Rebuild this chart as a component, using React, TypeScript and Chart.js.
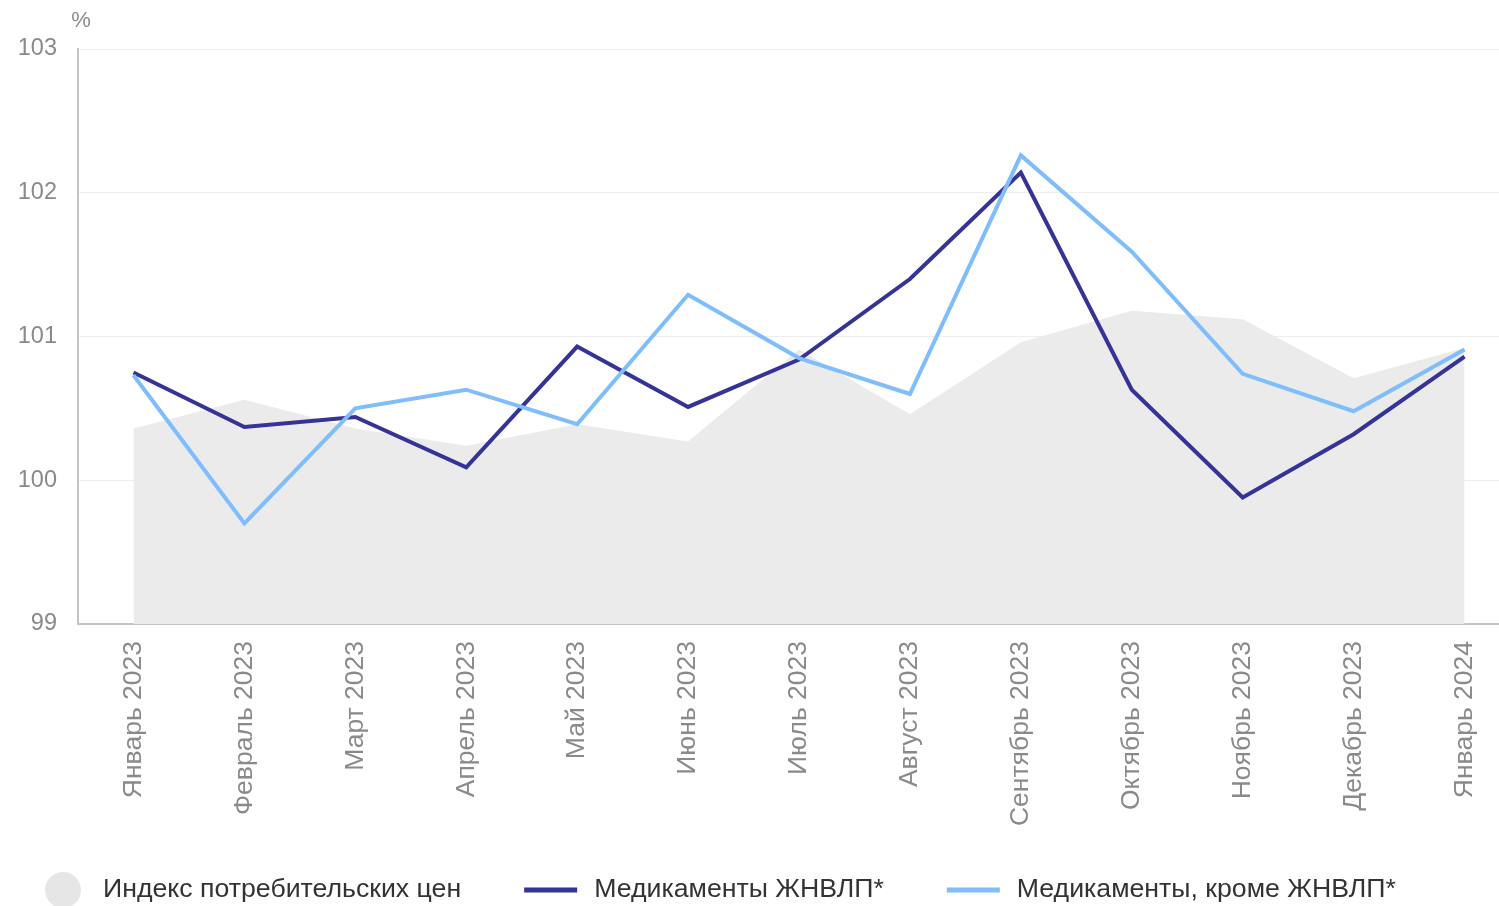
import React, { useEffect, useRef } from "react";
import { Chart, registerables } from "chart.js";

Chart.register(...registerables);

const categories = [
  "Январь 2023",
  "Февраль 2023",
  "Март 2023",
  "Апрель 2023",
  "Май 2023",
  "Июнь 2023",
  "Июль 2023",
  "Август 2023",
  "Сентябрь 2023",
  "Октябрь 2023",
  "Ноябрь 2023",
  "Декабрь 2023",
  "Январь 2024",
];

const cpiValues = [100.36, 100.56, 100.36, 100.24, 100.39, 100.27, 100.91, 100.46, 100.96, 101.18, 101.12, 100.71, 100.92];
const vitalDrugValues = [100.75, 100.37, 100.44, 100.09, 100.93, 100.51, 100.84, 101.4, 102.14, 100.63, 99.88, 100.32, 100.86];
const otherDrugValues = [100.73, 99.7, 100.5, 100.63, 100.39, 101.29, 100.85, 100.6, 102.26, 101.59, 100.74, 100.48, 100.91];

const yTicks = [99, 100, 101, 102, 103];
const seriesNames = ["Индекс потребительских цен", "Медикаменты ЖНВЛП*", "Медикаменты, кроме ЖНВЛП*"];
const unitLabel = "%";

const FONT = "'Liberation Sans', Arial, sans-serif";
const TICK_COLOR = "#8a8a8a";

const overlayPlugin = {
  id: "overlay",
  afterDraw(chart: any) {
    const ctx = chart.ctx as CanvasRenderingContext2D;
    ctx.save();
    // unit label
    ctx.font = `22px ${FONT}`;
    ctx.fillStyle = TICK_COLOR;
    ctx.textAlign = "center";
    ctx.textBaseline = "middle";
    ctx.fillText(unitLabel, chart.chartArea.left + 3, 21);

    // custom legend
    const y = 890;
    let x = 45;
    ctx.font = `26.7px ${FONT}`;
    ctx.textAlign = "left";
    chart.data.datasets.forEach((ds: any) => {
      if (ds.fill) {
        ctx.fillStyle = "#e6e6e6";
        ctx.beginPath();
        ctx.arc(x + 18, y, 18, 0, Math.PI * 2);
        ctx.fill();
        x += 58;
      } else {
        ctx.strokeStyle = ds.borderColor;
        ctx.lineWidth = 5;
        ctx.beginPath();
        ctx.moveTo(x, y);
        ctx.lineTo(x + 53, y);
        ctx.stroke();
        x += 70;
      }
      ctx.fillStyle = "#333333";
      ctx.fillText(ds.label, x, y);
      x += ctx.measureText(ds.label).width + 63;
    });
    ctx.restore();
  },
};

export default function App() {
  const canvasRef = useRef<HTMLCanvasElement | null>(null);

  useEffect(() => {
    if (!canvasRef.current) return;
    const chart = new Chart(canvasRef.current, {
      type: "line",
      data: {
        labels: categories,
        datasets: [
          {
            label: seriesNames[0],
            data: cpiValues,
            fill: "start",
            backgroundColor: "#ebebeb",
            borderColor: "transparent",
            borderWidth: 0,
            pointRadius: 0,
            tension: 0,
            order: 3,
          },
          {
            label: seriesNames[1],
            data: vitalDrugValues,
            fill: false,
            borderColor: "#363396",
            borderWidth: 4,
            pointRadius: 0,
            tension: 0,
            order: 2,
          },
          {
            label: seriesNames[2],
            data: otherDrugValues,
            fill: false,
            borderColor: "#80bdfb",
            borderWidth: 4,
            pointRadius: 0,
            tension: 0,
            order: 1,
          },
        ],
      },
      options: {
        animation: false,
        responsive: true,
        maintainAspectRatio: false,
        layout: { padding: { top: 49, left: 17, right: 0, bottom: 80 } },
        plugins: {
          legend: { display: false },
          tooltip: { enabled: false },
        },
        scales: {
          x: {
            offset: true,
            grid: { display: false },
            border: { color: "#c4c4c4", width: 2 },
            ticks: {
              autoSkip: false,
              minRotation: 90,
              maxRotation: 90,
              padding: 9,
              color: TICK_COLOR,
              font: { family: FONT, size: 26.5 },
            },
            afterFit: (scale: any) => {
              scale.height = 202;
            },
          },
          y: {
            min: 99,
            max: 103,
            afterBuildTicks: (scale: any) => {
              scale.ticks = yTicks.map((v) => ({ value: v }));
            },
            afterFit: (scale: any) => {
              scale.width = 61;
            },
            grid: { color: "#eeeeee", lineWidth: 1, drawTicks: false },
            border: { color: "#c4c4c4", width: 2 },
            ticks: {
              padding: 21,
              color: TICK_COLOR,
              font: { family: FONT, size: 23.5 },
            },
          },
        },
      },
      plugins: [overlayPlugin],
    });
    return () => chart.destroy();
  }, []);

  return (
    <div
      style={{
        position: "fixed",
        left: 0,
        top: 0,
        width: 1499,
        height: 906,
        overflow: "hidden",
        background: "#ffffff",
      }}
    >
      <div style={{ position: "relative", width: 1520, height: 906 }}>
        <canvas ref={canvasRef} />
      </div>
    </div>
  );
}
